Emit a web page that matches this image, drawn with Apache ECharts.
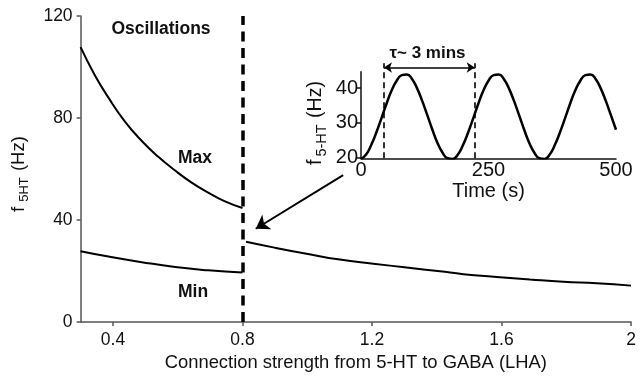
<!DOCTYPE html>
<html>
<head>
<meta charset="utf-8">
<script src="https://cdn.jsdelivr.net/npm/echarts@6.0.0/dist/echarts.min.js"></script>
<style>
  html, body { margin: 0; padding: 0; background: #fff; }
  #main { width: 643px; height: 377px; }
</style>
</head>
<body>
<div id="main"></div>
<script>
// main panel: max / min of f5HT vs connection strength
var maxX = [0.3, 0.344, 0.386, 0.437, 0.489, 0.540, 0.592, 0.643, 0.694, 0.746, 0.8];
var maxY = [107.8, 96.8, 88.0, 78.6, 71.0, 64.8, 59.4, 54.7, 50.8, 47.3, 44.7];
var minLeftX = [0.3, 0.386, 0.489, 0.592, 0.694, 0.8];
var minLeftY = [27.8, 25.7, 23.5, 21.6, 20.3, 19.4];
var minRightX = [0.811, 0.895, 0.998, 1.101, 1.204, 1.307, 1.41, 1.482, 1.585, 1.688, 1.791, 1.894, 2.0];
var minRightY = [31.5, 29.3, 26.8, 24.5, 22.9, 21.4, 19.9, 18.8, 17.7, 16.7, 15.8, 15.2, 14.3];
var xTicks = [0.4, 0.8, 1.2, 1.6, 2];
var boundaryX = 0.8;
var arrowFrom = [1.111, 57.6];
var arrowTo = [0.841, 36.6];

// inset: time course in the oscillating regime
var insetT = [0, 10, 20, 30, 40, 50, 60, 70, 80, 90, 100, 110, 120, 130, 140, 150, 160, 170, 180,
  190, 200, 210, 220, 230, 240, 250, 260, 270, 280, 290, 300, 310, 320, 330, 340, 350, 360,
  370, 380, 390, 400, 410, 420, 430, 440, 450, 460, 470, 480, 490, 500];
var insetF = [19.6, 20.9, 23.6, 27.2, 31.3, 35.5, 39.3, 42.1, 43.7, 43.9, 42.6, 39.9, 36.3, 32.2, 28.0, 24.2, 21.4, 19.8, 19.6,
  20.9, 23.6, 27.2, 31.3, 35.5, 39.3, 42.1, 43.7, 43.9, 42.6, 39.9, 36.3, 32.2, 28.0, 24.2, 21.4, 19.8, 19.6,
  20.9, 23.6, 27.2, 31.3, 35.5, 39.3, 42.1, 43.7, 43.9, 42.6, 39.9, 36.3, 32.2, 28.0];
var insetYTicks = [20, 30, 40];
var insetYMin = 19.8, insetYMax = 44.7;
var periodStart = 45;
var periodEnd = 223;
var periodLineTop = 47.1;
var periodArrowY = 45.9;

function pairs(xs, ys) {
  return xs.map(function (x, i) { return [x, ys[i]]; });
}

var font = 'Liberation Sans, Arial, Helvetica, sans-serif';
var chart = echarts.init(document.getElementById('main'), null, { renderer: 'canvas' });

// the inset's plot box, and a taller hidden box with the same scale for the period marks
var insetTop = 71.7, insetBottom = 218.7;
var pxPerUnit = (377 - insetBottom - insetTop) / (insetYMax - insetYMin);
var overlayTop = 58;
var overlayMax = insetYMin + (377 - insetBottom - overlayTop) / pxPerUnit;

var option = {
  animation: false,
  backgroundColor: '#fff',
  textStyle: { fontFamily: font },
  grid: [
    { left: 80.6, right: 12, top: 16, bottom: 49.3 },
    { left: 361, right: 27, top: insetTop, bottom: insetBottom },
    { left: 361, right: 27, top: overlayTop, bottom: insetBottom }
  ],
  xAxis: [
    {
      gridIndex: 0, type: 'value', min: 0.3, max: 2,
      name: 'Connection strength from 5-HT to GABA (LHA)',
      nameLocation: 'middle', nameGap: 25,
      nameTextStyle: { fontSize: 18.4, color: '#111' },
      splitLine: { show: false },
      axisLine: { lineStyle: { color: '#555', width: 1.5 } },
      axisTick: { length: 4, customValues: xTicks, lineStyle: { color: '#555', width: 1.5 } },
      axisLabel: { customValues: xTicks, fontSize: 17.5, color: '#111', margin: 9 }
    },
    {
      gridIndex: 1, type: 'value', min: 0, max: 500, interval: 250,
      name: 'Time (s)', nameLocation: 'middle', nameGap: 20,
      nameTextStyle: { fontSize: 20, color: '#111' },
      splitLine: { show: false },
      axisLine: { lineStyle: { color: '#111', width: 1.5 } },
      axisTick: { show: false },
      axisLabel: { fontSize: 20, color: '#111', margin: 2 }
    },
    {
      gridIndex: 2, type: 'value', min: 0, max: 500, show: false
    }
  ],
  yAxis: [
    {
      gridIndex: 0, type: 'value', min: 0, max: 120, interval: 40,
      name: '{a|f}{b|5HT}{a| (Hz)}',
      nameLocation: 'middle', nameGap: 50,
      nameTextStyle: {
        padding: [0, 10, 0, 0],
        rich: {
          a: { fontSize: 18.5, lineHeight: 24, color: '#111', fontFamily: font },
          b: { fontSize: 13, lineHeight: 12, verticalAlign: 'bottom', padding: [0, 1, 0, 5], color: '#111', fontFamily: font }
        }
      },
      splitLine: { show: false },
      axisLine: { show: true, lineStyle: { color: '#555', width: 1.5 } },
      axisTick: { show: true, length: 4, lineStyle: { color: '#555', width: 1.5 } },
      axisLabel: { fontSize: 17.5, color: '#111', margin: 8 }
    },
    {
      gridIndex: 1, type: 'value', min: insetYMin, max: insetYMax,
      name: '{a|f}{b|5-HT}{a| (Hz)}',
      nameLocation: 'middle', nameGap: 32,
      nameTextStyle: {
        padding: [0, 16, 0, 0],
        rich: {
          a: { fontSize: 19.5, lineHeight: 26, color: '#111', fontFamily: font },
          b: { fontSize: 14.5, lineHeight: 13, verticalAlign: 'bottom', padding: [0, 1, 0, 3], color: '#111', fontFamily: font }
        }
      },
      splitLine: { show: false },
      axisLine: { show: true, lineStyle: { color: '#111', width: 1.5 } },
      axisTick: { show: true, length: 4, customValues: insetYTicks, lineStyle: { color: '#111', width: 1.5 } },
      axisLabel: { customValues: insetYTicks, fontSize: 20, color: '#111', margin: 3 }
    },
    {
      gridIndex: 2, type: 'value', min: insetYMin, max: overlayMax, show: false
    }
  ],
  graphic: [
    { type: 'text', x: 161, y: 29, style: { text: 'Oscillations', font: 'bold 17.5px ' + font, fill: '#111', textAlign: 'center', textVerticalAlign: 'middle' } },
    { type: 'text', x: 195, y: 158, style: { text: 'Max', font: 'bold 17.5px ' + font, fill: '#111', textAlign: 'center', textVerticalAlign: 'middle' } },
    { type: 'text', x: 193, y: 292, style: { text: 'Min', font: 'bold 17.5px ' + font, fill: '#111', textAlign: 'center', textVerticalAlign: 'middle' } },
    { type: 'text', x: 427.5, y: 53, style: { text: 'τ~ 3 mins', font: 'bold 17px ' + font, fill: '#111', textAlign: 'center', textVerticalAlign: 'middle' } }
  ],
  series: [
    {
      name: 'Max', type: 'line', xAxisIndex: 0, yAxisIndex: 0,
      data: pairs(maxX, maxY), smooth: true, showSymbol: false,
      lineStyle: { color: '#000', width: 2 },
      markLine: {
        silent: true, symbol: 'none', label: { show: false },
        lineStyle: { color: '#000', width: 3.5, type: [10, 6.5] },
        data: [{ xAxis: boundaryX }]
      }
    },
    {
      name: 'Min', type: 'line', xAxisIndex: 0, yAxisIndex: 0,
      data: pairs(minLeftX, minLeftY), smooth: true, showSymbol: false,
      lineStyle: { color: '#000', width: 2 }
    },
    {
      name: 'Min2', type: 'line', xAxisIndex: 0, yAxisIndex: 0,
      data: pairs(minRightX, minRightY), smooth: true, showSymbol: false,
      lineStyle: { color: '#000', width: 2 },
      markLine: {
        silent: true, symbol: ['none', 'arrow'], symbolSize: 13, label: { show: false },
        lineStyle: { color: '#000', width: 2, type: 'solid' },
        itemStyle: { color: '#000' },
        data: [[{ coord: arrowFrom }, { coord: arrowTo }]]
      }
    },
    {
      name: 'f5HT', type: 'line', xAxisIndex: 1, yAxisIndex: 1,
      data: pairs(insetT, insetF), smooth: true, showSymbol: false,
      lineStyle: { color: '#000', width: 2.5 }
    },
    {
      name: 'period', type: 'line', xAxisIndex: 2, yAxisIndex: 2,
      data: [],
      markLine: {
        silent: true, symbol: 'none', label: { show: false },
        lineStyle: { color: '#000', width: 1.6, type: [6, 4] },
        data: [
          [{ coord: [periodStart, insetYMin] }, { coord: [periodStart, periodLineTop] }],
          [{ coord: [periodEnd, insetYMin] }, { coord: [periodEnd, periodLineTop] }]
        ]
      }
    },
    {
      name: 'periodArrow', type: 'line', xAxisIndex: 2, yAxisIndex: 2,
      data: [],
      markLine: {
        silent: true, symbol: ['arrow', 'arrow'], symbolSize: 8, label: { show: false },
        lineStyle: { color: '#000', width: 1.5, type: 'solid' },
        itemStyle: { color: '#000' },
        data: [[{ coord: [periodStart, periodArrowY] }, { coord: [periodEnd, periodArrowY] }]]
      }
    }
  ]
};

chart.setOption(option);
</script>
</body>
</html>
